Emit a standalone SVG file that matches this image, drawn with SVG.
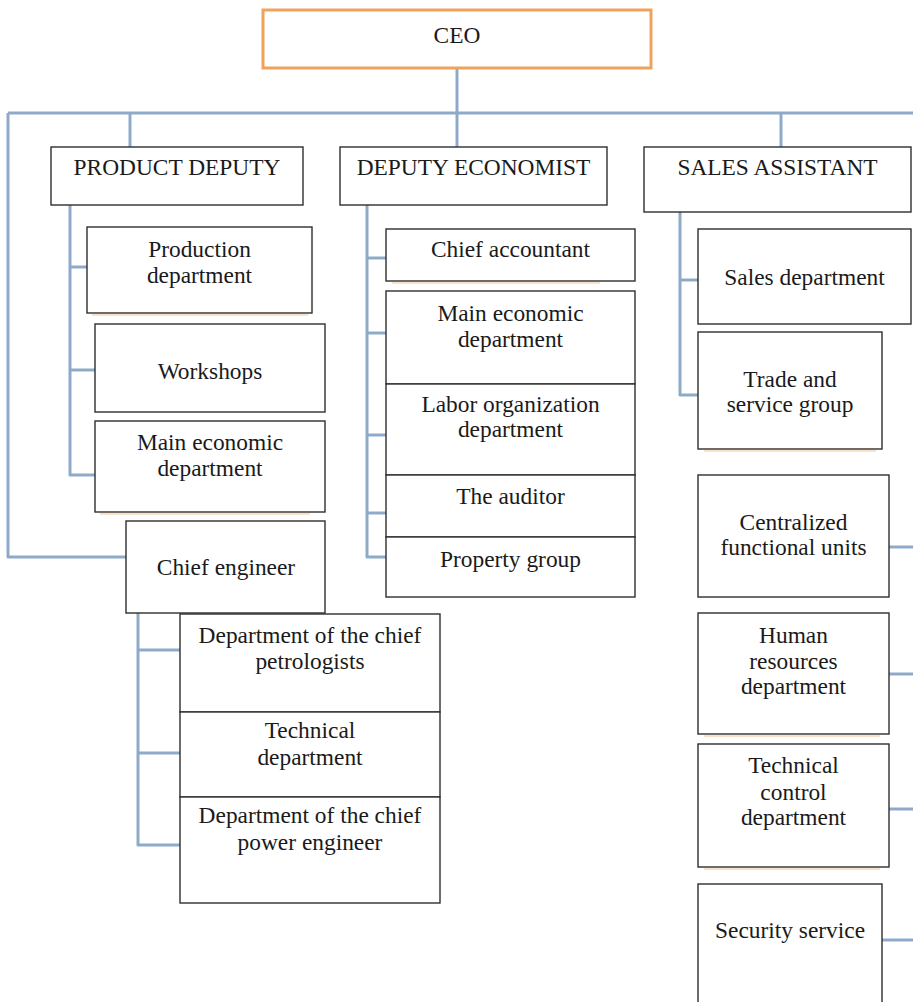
<svg xmlns="http://www.w3.org/2000/svg" width="913" height="1002" viewBox="0 0 913 1002">
  <style>
    .box { fill: #ffffff; stroke: #2e2e2e; stroke-width: 1.4; }
    .ceo { fill: #ffffff; stroke: #f0a25c; stroke-width: 3; }
    .shade { fill: none; stroke: #f7c99a; stroke-width: 2; opacity: 0.55; }
    .link { fill: none; stroke: #8eaac9; stroke-width: 3; stroke-linejoin: round; stroke-linecap: butt; }
    text { font-family: 'Liberation Serif', 'DejaVu Serif', 'Noto Serif', serif; font-size: 23.4px; fill: #1a1a1a; text-anchor: middle; }
  </style>

  <!-- connectors -->
  <g id="connectors">
    <path class="link" d="M457 68 V113"/>
    <path class="link" d="M8 113 H913"/>
    <path class="link" d="M130 113 V147"/>
    <path class="link" d="M457 113 V147"/>
    <path class="link" d="M781 113 V147"/>
    <path class="link" d="M8 113 V557 H126"/>
    <!-- product deputy branch -->
    <path class="link" d="M70 205 V475 H95"/>
    <path class="link" d="M70 267 H87"/>
    <path class="link" d="M70 370 H95"/>
    <!-- deputy economist branch -->
    <path class="link" d="M367 205 V557 H386"/>
    <path class="link" d="M367 258 H386"/>
    <path class="link" d="M367 333 H386"/>
    <path class="link" d="M367 435 H386"/>
    <path class="link" d="M367 513 H386"/>
    <!-- sales assistant branch -->
    <path class="link" d="M680 212 V395 H698"/>
    <path class="link" d="M680 280 H698"/>
    <!-- chief engineer branch -->
    <path class="link" d="M138 613 V845 H180"/>
    <path class="link" d="M138 650 H180"/>
    <path class="link" d="M138 753 H180"/>
    <!-- right-hand units -->
    <path class="link" d="M889 547 H913"/>
    <path class="link" d="M889 674 H913"/>
    <path class="link" d="M889 809 H913"/>
    <path class="link" d="M882 940 H913"/>
  </g>

  <g id="ceo">
    <rect class="ceo" x="263" y="10" width="388" height="58"/>
    <text x="457" y="43">CEO</text>
  </g>

  <g id="product-deputy">
    <rect class="box" x="51" y="147" width="252" height="58"/>
    <text x="177" y="175">PRODUCT DEPUTY</text>
  </g>
  <g id="deputy-economist">
    <rect class="box" x="340" y="147" width="267" height="58"/>
    <text x="473.5" y="175">DEPUTY ECONOMIST</text>
  </g>
  <g id="sales-assistant">
    <rect class="box" x="644" y="147" width="267" height="65"/>
    <text x="777.5" y="175">SALES ASSISTANT</text>
  </g>

  <g id="production-department">
    <path class="shade" d="M92 315 H308"/>
    <rect class="box" x="87" y="227" width="225" height="86"/>
    <text x="199.5" y="257">Production</text>
    <text x="199.5" y="283">department</text>
  </g>
  <g id="workshops">
    <rect class="box" x="95" y="324" width="230" height="88"/>
    <text x="210" y="379">Workshops</text>
  </g>
  <g id="main-economic-department-production">
    <path class="shade" d="M100 514 H310"/>
    <rect class="box" x="95" y="421" width="230" height="91"/>
    <text x="210" y="450">Main economic</text>
    <text x="210" y="476">department</text>
  </g>
  <g id="chief-engineer">
    <rect class="box" x="126" y="521" width="199" height="92"/>
    <text x="226" y="575">Chief engineer</text>
  </g>

  <g id="chief-accountant">
    <path class="shade" d="M392 283 H600"/>
    <rect class="box" x="386" y="229" width="249" height="52"/>
    <text x="510.5" y="257">Chief accountant</text>
  </g>
  <g id="main-economic-department-economist">
    <rect class="box" x="386" y="291" width="249" height="93"/>
    <text x="510.5" y="321">Main economic</text>
    <text x="510.5" y="347">department</text>
  </g>
  <g id="labor-organization-department">
    <rect class="box" x="386" y="384" width="249" height="91"/>
    <text x="510.5" y="412">Labor organization</text>
    <text x="510.5" y="437">department</text>
  </g>
  <g id="auditor">
    <rect class="box" x="386" y="475" width="249" height="62"/>
    <text x="510.5" y="504">The auditor</text>
  </g>
  <g id="property-group">
    <rect class="box" x="386" y="537" width="249" height="60"/>
    <text x="510.5" y="567">Property group</text>
  </g>

  <g id="sales-department">
    <rect class="box" x="698" y="229" width="213" height="95"/>
    <text x="804.5" y="285">Sales department</text>
  </g>
  <g id="trade-and-service-group">
    <path class="shade" d="M704 451 H876"/>
    <rect class="box" x="698" y="332" width="184" height="117"/>
    <text x="790" y="387">Trade and</text>
    <text x="790" y="412">service group</text>
  </g>
  <g id="centralized-functional-units">
    <rect class="box" x="698" y="475" width="191" height="122"/>
    <text x="793.5" y="530">Centralized</text>
    <text x="793.5" y="555">functional units</text>
  </g>
  <g id="human-resources-department">
    <path class="shade" d="M704 736 H880"/>
    <rect class="box" x="698" y="613" width="191" height="121"/>
    <text x="793.5" y="643">Human</text>
    <text x="793.5" y="669">resources</text>
    <text x="793.5" y="694">department</text>
  </g>
  <g id="technical-control-department">
    <path class="shade" d="M704 869 H880"/>
    <rect class="box" x="698" y="744" width="191" height="123"/>
    <text x="793.5" y="773">Technical</text>
    <text x="793.5" y="800">control</text>
    <text x="793.5" y="825">department</text>
  </g>
  <g id="security-service">
    <rect class="box" x="698" y="884" width="184" height="125"/>
    <text x="790" y="938">Security service</text>
  </g>

  <g id="chief-petrologists-department">
    <rect class="box" x="180" y="614" width="260" height="98"/>
    <text x="310" y="643">Department of the chief</text>
    <text x="310" y="669">petrologists</text>
  </g>
  <g id="technical-department">
    <rect class="box" x="180" y="712" width="260" height="85"/>
    <text x="310" y="738">Technical</text>
    <text x="310" y="765">department</text>
  </g>
  <g id="chief-power-engineer-department">
    <rect class="box" x="180" y="797" width="260" height="106"/>
    <text x="310" y="823">Department of the chief</text>
    <text x="310" y="850">power engineer</text>
  </g>
</svg>
